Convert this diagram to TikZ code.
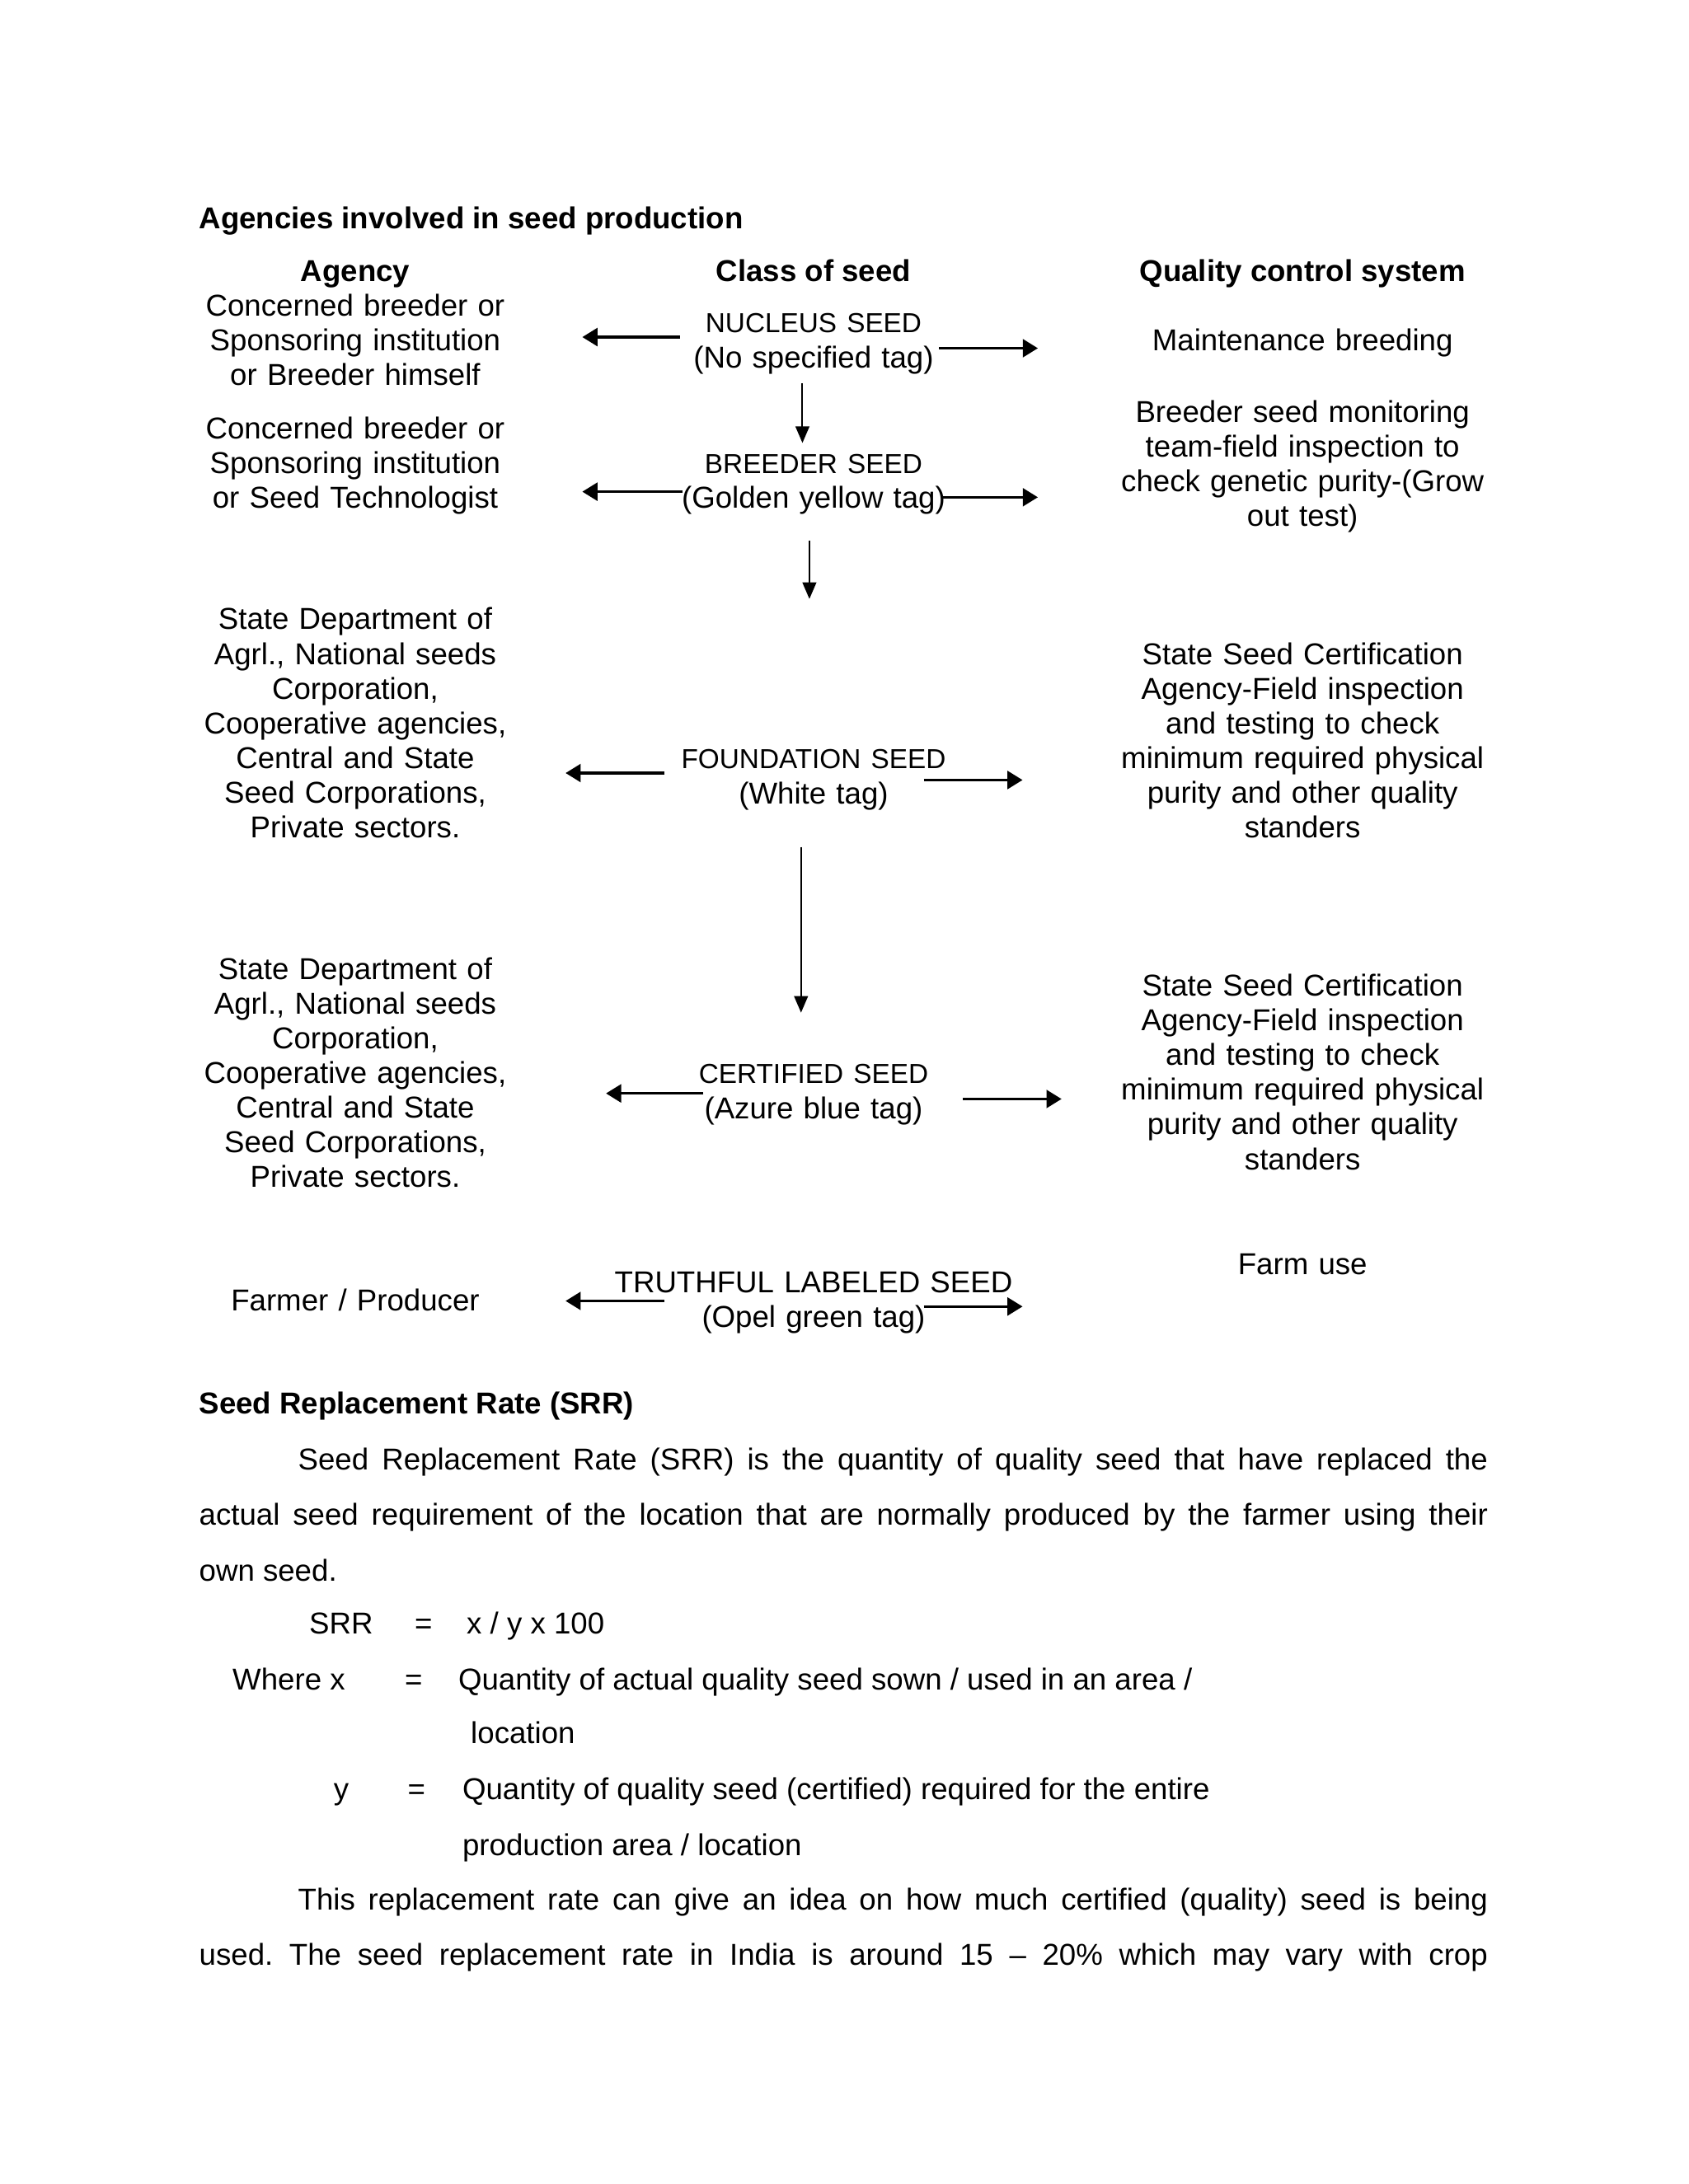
\documentclass[tikz,border=0pt]{standalone}
\usepackage{fontspec}
\setmainfont{Liberation Sans}
\usetikzlibrary{arrows.meta}
\newlength\U
\setlength\U{0.0070132in}
\frenchspacing
\begin{document}
\frenchspacing
\begin{tikzpicture}[x=0.0070132in, y=-0.0070132in,
  txt/.style={font=\fontsize{11}{12.65}\selectfont\frenchspacing, inner sep=0pt, outer sep=0pt},
  blk/.style={txt, text width=2.3in, align=center, anchor=base},
  lft/.style={txt, anchor=base west},
  ctr/.style={txt, anchor=base},
  harr/.style={line width=1pt, -{Triangle[length=5.5pt,width=6.5pt]}},
  varr/.style={line width=0.6pt, -{Triangle[length=6pt,width=5pt]}}]
\fill[white] (0,0) rectangle (1212,1568);
\useasboundingbox (0,0) rectangle (1212,1568);
\newcommand{\cls}[1]{{\fontsize{10}{12.65}\selectfont #1}}

% title and headers
\node[lft] (title) at (143,164) {\bfseries Agencies involved in seed production};
\node[ctr] (hAg) at (255,202) {\bfseries Agency};
\node[ctr] (hCl) at (584,202) {\bfseries Class of seed};
\node[ctr] (hQc) at (935,202) {\bfseries Quality control system};

% agency column
\node[blk] (ag1) at (255,227) {Concerned breeder or\\Sponsoring institution\\or Breeder himself};
\node[blk] (ag2) at (255,315) {Concerned breeder or\\Sponsoring institution\\or Seed Technologist};
\node[blk] (ag3) at (255,452) {State Department of\\Agrl., National seeds\\Corporation,\\Cooperative agencies,\\Central and State\\Seed Corporations,\\Private sectors.};
\node[blk] (ag4) at (255,703) {State Department of\\Agrl., National seeds\\Corporation,\\Cooperative agencies,\\Central and State\\Seed Corporations,\\Private sectors.};
\node[blk] (ag5) at (255,941) {Farmer / Producer};

% class column
\node[blk] (nuc) at (584,239) {\cls{NUCLEUS SEED}\\(No specified tag)};
\node[blk] (bre) at (584,340) {\cls{BREEDER SEED}\\(Golden yellow tag)};
\node[blk] (fou) at (584,552) {\cls{FOUNDATION SEED}\\(White tag)};
\node[blk] (cer) at (584,778) {\cls{CERTIFIED SEED}\\(Azure blue tag)};
\node[blk] (tru) at (584,928) {TRUTHFUL LABELED SEED\\(Opel green tag)};

% quality control column
\node[blk] (qc1) at (935,252) {Maintenance breeding};
\node[blk] (qc2) at (935,303) {Breeder seed monitoring\\team-field inspection to\\check genetic purity-(Grow\\out test)};
\node[blk] (qc3) at (935,477) {State Seed Certification\\Agency-Field inspection\\and testing to check\\minimum required physical\\purity and other quality\\standers};
\node[blk] (qc4) at (935,715) {State Seed Certification\\Agency-Field inspection\\and testing to check\\minimum required physical\\purity and other quality\\standers};
\node[blk] (qc5) at (935,915) {Farm use};

% arrow end points
\coordinate (nL1) at (488,242); \coordinate (nL2) at (418,242);
\coordinate (nR1) at (674,250); \coordinate (nR2) at (745,250);
\coordinate (bL1) at (490,353); \coordinate (bL2) at (418,353);
\coordinate (bR1) at (676,357); \coordinate (bR2) at (745,357);
\coordinate (fL1) at (477,555); \coordinate (fL2) at (406,555);
\coordinate (fR1) at (663,560); \coordinate (fR2) at (734,560);
\coordinate (cL1) at (505,785); \coordinate (cL2) at (435,785);
\coordinate (cR1) at (691,789); \coordinate (cR2) at (762,789);
\coordinate (tL1) at (477,934); \coordinate (tL2) at (406,934);
\coordinate (tR1) at (663,938); \coordinate (tR2) at (734,938);
\coordinate (d1a) at (576,275); \coordinate (d1b) at (576,318);
\coordinate (d2a) at (581,388); \coordinate (d2b) at (581,430);
\coordinate (d3a) at (575,608); \coordinate (d3b) at (575,727);

\draw[harr] (nL1) -- (nL2);
\draw[harr] (nR1) -- (nR2);
\draw[harr] (bL1) -- (bL2);
\draw[harr] (bR1) -- (bR2);
\draw[harr] (fL1) -- (fL2);
\draw[harr] (fR1) -- (fR2);
\draw[harr] (cL1) -- (cL2);
\draw[harr] (cR1) -- (cR2);
\draw[harr] (tL1) -- (tL2);
\draw[harr] (tR1) -- (tR2);
\draw[varr] (d1a) -- (d1b);
\draw[varr] (d2a) -- (d2b);
\draw[varr] (d3a) -- (d3b);

% SRR section
\node[lft] (srrh) at (143,1015) {\bfseries Seed Replacement Rate (SRR)};
\node[lft] (p1) at (214,1055) {\makebox[854\U][s]{Seed Replacement Rate (SRR) is the quantity of quality seed that have replaced the}};
\node[lft] (p2) at (143,1095) {\makebox[925\U][s]{actual seed requirement of the location that are normally produced by the farmer using their}};
\node[lft] (p3) at (143,1135) {own seed.};
\node[lft] (f1a) at (222,1173) {SRR};
\node[ctr] (f1b) at (304,1173) {=};
\node[lft] (f1c) at (335,1173) {x / y x 100};
\node[lft] (f2a) at (167,1213) {Where x};
\node[ctr] (f2b) at (297,1213) {=};
\node[lft] (f2c) at (329,1213) {Quantity of actual quality seed sown / used in an area /};
\node[lft] (f3) at (338,1252) {location};
\node[ctr] (f4a) at (245,1292) {y};
\node[ctr] (f4b) at (299,1292) {=};
\node[lft] (f4c) at (332,1292) {Quantity of quality seed (certified) required for the entire};
\node[lft] (f5) at (332,1332) {production area / location};
\node[lft] (p4) at (214,1371) {\makebox[854\U][s]{This replacement rate can give an idea on how much certified (quality) seed is being}};
\node[lft] (p5) at (143,1411) {\makebox[925\U][s]{used. The seed replacement rate in India is around 15 \textendash{} 20\% which may vary with crop}};
\end{tikzpicture}
\end{document}
